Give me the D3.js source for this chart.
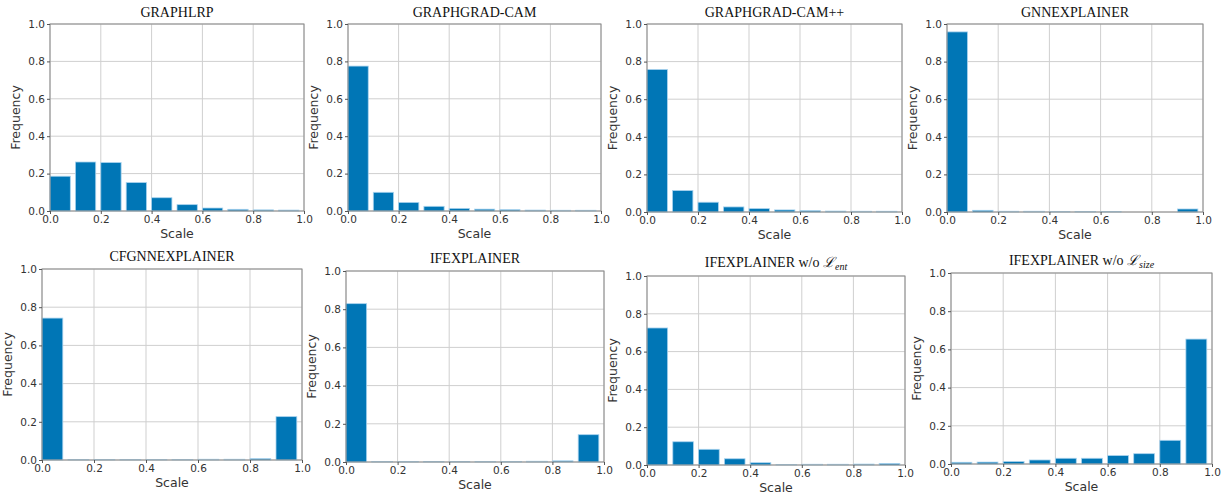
<!DOCTYPE html>
<html><head><meta charset="utf-8">
<script src="https://cdn.jsdelivr.net/npm/d3@7"></script>
<style>body{margin:0;background:#fff}</style>
</head><body>
<svg id="c" width="1228" height="494"></svg>
<script>
const binStarts = [0.0,0.1,0.2,0.3,0.4,0.5,0.6,0.7,0.8,0.9];
const tickValues = [0,0.2,0.4,0.6,0.8,1.0];
const tickLabels = ["0.0","0.2","0.4","0.6","0.8","1.0"];
const titles = ["GRAPHLRP","GRAPHGRAD-CAM","GRAPHGRAD-CAM++","GNNEXPLAINER","CFGNNEXPLAINER","IFEXPLAINER","IFEXPLAINER w/o |ent","IFEXPLAINER w/o |size"];
const graphLRP     = [0.186,0.262,0.259,0.152,0.071,0.034,0.016,0.009,0.006,0.005];
const gradCAM      = [0.775,0.100,0.046,0.025,0.014,0.010,0.007,0.005,0.004,0.004];
const gradCAMpp    = [0.758,0.114,0.052,0.027,0.018,0.011,0.007,0.005,0.004,0.004];
const gnnExplainer = [0.958,0.009,0.004,0.004,0.003,0.003,0.003,0.000,0.000,0.016];
const cfGnnExpl    = [0.743,0.003,0.003,0.003,0.003,0.003,0.004,0.004,0.007,0.227];
const ifExplainer  = [0.829,0.003,0.003,0.002,0.002,0.003,0.003,0.004,0.006,0.143];
const ifNoEnt      = [0.725,0.123,0.083,0.033,0.012,0.003,0.004,0.004,0.005,0.008];
const ifNoSize     = [0.009,0.010,0.013,0.021,0.030,0.030,0.044,0.054,0.124,0.654];
const series = [graphLRP,gradCAM,gradCAMpp,gnnExplainer,cfGnnExpl,ifExplainer,ifNoEnt,ifNoSize];
const binWidth = 0.1, barFrac = 0.8;

// layout: plot area boxes [left, top, right, bottom]
const boxes = [
  [50,24,304,211],[348,24,601,211],[647,24,902,212],[947,24,1203,212],
  [42,269,302,460],[346,271,604,462],[647,276,905,465],[951,273,1212,464]
];
const titleY = [17,17,17,17,261,263,267,265];

const svg = d3.select("#c");
const barColor = "#0076b6";

series.forEach((vals,i)=>{
  const [L,T,R,B] = boxes[i];
  const x = d3.scaleLinear().domain([0,1]).range([L,R]);
  const y = d3.scaleLinear().domain([0,1]).range([B,T]);
  const g = svg.append("g");
  g.selectAll(".gx").data(tickValues).join("line")
    .attr("x1",d=>x(d)).attr("x2",d=>x(d)).attr("y1",T).attr("y2",B)
    .attr("stroke","#cfcfcf").attr("stroke-width",1);
  g.selectAll(".gy").data(tickValues).join("line")
    .attr("y1",d=>y(d)).attr("y2",d=>y(d)).attr("x1",L).attr("x2",R)
    .attr("stroke","#cfcfcf").attr("stroke-width",1);
  g.selectAll("rect.bar").data(vals.filter(v=>v>0).length? vals : []).join("rect").attr("class","bar")
    .attr("x",(d,j)=>x(binStarts[j]))
    .attr("width",(d,j)=>x(binStarts[j]+binWidth*barFrac)-x(binStarts[j]))
    .attr("y",d=>y(d)).attr("height",d=>y(0)-y(d))
    .attr("fill",barColor)
    .attr("stroke",d=>d>0?"#a9d3ee":"none").attr("stroke-width",0.8);
  g.append("rect").attr("x",L).attr("y",T).attr("width",R-L).attr("height",B-T)
    .attr("fill","none").attr("stroke","#8a8a8a").attr("stroke-width",1);
  const xa = d3.axisBottom(x).tickValues(tickValues).tickFormat((d,k)=>tickLabels[k]).tickSize(3).tickPadding(2);
  const ya = d3.axisLeft(y).tickValues(tickValues).tickFormat((d,k)=>tickLabels[k]).tickSize(3).tickPadding(2);
  const gx = g.append("g").attr("transform",`translate(0,${B})`).call(xa);
  const gy = g.append("g").attr("transform",`translate(${L},0)`).call(ya);
  [gx,gy].forEach(a=>{
    a.select(".domain").remove();
    a.selectAll("line").attr("stroke","#555");
    a.selectAll("text").attr("fill","#333").style("font-family","DejaVu Sans").style("font-size","10.5px");
  });
  g.append("text").attr("x",(L+R)/2).attr("y",B+27).attr("text-anchor","middle")
    .style("font-family","DejaVu Sans").style("font-size","12.5px").attr("fill","#333").text("Scale");
  g.append("text").attr("transform",`translate(${L-30},${(T+B)/2}) rotate(-90)`).attr("text-anchor","middle")
    .style("font-family","DejaVu Sans").style("font-size","12.5px").attr("fill","#333").text("Frequency");
  const t = g.append("text").attr("x",(L+R)/2).attr("y",titleY[i]).attr("text-anchor","middle")
    .style("font-family","Liberation Serif").style("font-size","14px").attr("fill","#111");
  const parts = titles[i].split("|");
  t.append("tspan").text(parts[0]);
  if(parts.length>1){
    t.append("tspan").style("font-style","italic").text("ℒ");
    t.append("tspan").style("font-style","italic").style("font-size","10px").attr("dy",3).text(parts[1]);
  }
});
</script>
</body></html>
